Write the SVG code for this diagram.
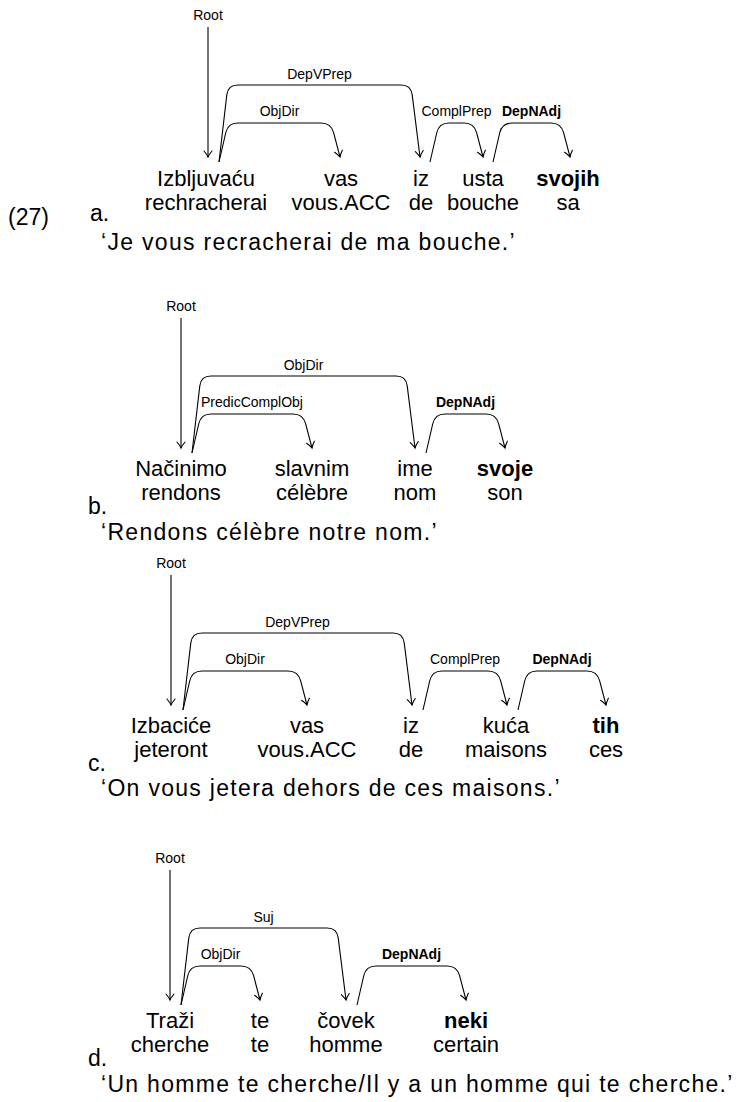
<svg xmlns="http://www.w3.org/2000/svg" width="740" height="1102" viewBox="0 0 740 1102">
<defs>
<marker id="ah" markerUnits="userSpaceOnUse" markerWidth="14" markerHeight="14" viewBox="-8 -7 14 14" refX="0" refY="0" orient="auto">
<path d="M-6,-4 C-3,-1.5 -1,-0.4 0,0 C-1,0.4 -3,1.5 -6,4" fill="none" stroke="#000" stroke-width="1.1" stroke-linecap="round"/>
</marker>
<style>
.w{font-family:"Liberation Sans",Arial,sans-serif;font-size:22px;fill:#000;text-anchor:middle}
.b{font-weight:bold}
.n{font-family:"Liberation Sans",Arial,sans-serif;font-size:23px;fill:#000}
.t{font-family:"Liberation Sans",Arial,sans-serif;font-size:23px;letter-spacing:1.3px;fill:#000}
.l{font-family:"Liberation Sans",Arial,sans-serif;font-size:14px;fill:#000;text-anchor:middle}
.e{fill:none;stroke:#000;stroke-width:1.1;marker-end:url(#ah)}
</style>
</defs>
<rect width="740" height="1102" fill="#fff"/>

<!-- Example a -->
<g id="ex-a">
<text class="n" x="8" y="225">(27)</text>
<text class="n" x="90" y="221">a.</text>
<g id="a-labels">
<text class="l" x="208" y="20">Root</text>
<text class="l" x="319.5" y="79">DepVPrep</text>
<text class="l" x="279.5" y="116">ObjDir</text>
<text class="l" x="456.5" y="116">ComplPrep</text>
<text class="l b" x="531.5" y="116">DepNAdj</text>
</g>
<g id="a-connectors">
<path class="e" d="M208,27 L208,157"/>
<path class="e" d="M219,162 L226.8,94.9 Q228,85 238,85 L401,85 Q411,85 412.2,94.9 L420,157"/>
<path class="e" d="M219,162 L225.75,132.75 Q228,123 238,123 L321,123 Q331,123 333.6,132.7 L340,157"/>
<path class="e" d="M430,162 L436.75,132.75 Q439,123 449,123 L464,123 Q474,123 476.6,132.7 L483,157"/>
<path class="e" d="M493,162 L499.75,132.75 Q502,123 512,123 L551,123 Q561,123 563.6,132.7 L570,157"/>
</g>
<g id="a-w1"><text class="w" x="206" y="186">Izbljuvaću</text><text class="w" x="206" y="210">rechracherai</text></g>
<g id="a-w2"><text class="w" x="341" y="186">vas</text><text class="w" x="341" y="210">vous.ACC</text></g>
<g id="a-w3"><text class="w" x="421" y="186">iz</text><text class="w" x="421" y="210">de</text></g>
<g id="a-w4"><text class="w" x="483" y="186">usta</text><text class="w" x="483" y="210">bouche</text></g>
<g id="a-w5"><text class="w b" x="568" y="186">svojih</text><text class="w" x="568" y="210">sa</text></g>
<text class="t" x="101" y="250">‘Je vous recracherai de ma bouche.’</text>
</g>

<!-- Example b -->
<g id="ex-b">
<text class="n" x="88" y="514">b.</text>
<g id="b-labels">
<text class="l" x="181" y="311">Root</text>
<text class="l" x="303.5" y="370">ObjDir</text>
<text class="l" x="252" y="407">PredicComplObj</text>
<text class="l b" x="465.5" y="407">DepNAdj</text>
</g>
<g id="b-connectors">
<path class="e" d="M181,318 L181,448"/>
<path class="e" d="M192,453 L199.8,385.9 Q201,376 211,376 L396,376 Q406,376 407.2,385.9 L415,448"/>
<path class="e" d="M192,453 L198.75,423.75 Q201,414 211,414 L293,414 Q303,414 305.6,423.7 L312,448"/>
<path class="e" d="M426,453 L432.75,423.75 Q435,414 445,414 L486,414 Q496,414 498.6,423.7 L505,448"/>
</g>
<g id="b-w1"><text class="w" x="181" y="476">Načinimo</text><text class="w" x="181" y="500">rendons</text></g>
<g id="b-w2"><text class="w" x="312" y="476">slavnim</text><text class="w" x="312" y="500">célèbre</text></g>
<g id="b-w3"><text class="w" x="415" y="476">ime</text><text class="w" x="415" y="500">nom</text></g>
<g id="b-w4"><text class="w b" x="505" y="476">svoje</text><text class="w" x="505" y="500">son</text></g>
<text class="t" x="101" y="540">‘Rendons célèbre notre nom.’</text>
</g>

<!-- Example c -->
<g id="ex-c">
<text class="n" x="88" y="771">c.</text>
<g id="c-labels">
<text class="l" x="171" y="568">Root</text>
<text class="l" x="297.5" y="627">DepVPrep</text>
<text class="l" x="245" y="664">ObjDir</text>
<text class="l" x="465" y="664">ComplPrep</text>
<text class="l b" x="562" y="664">DepNAdj</text>
</g>
<g id="c-connectors">
<path class="e" d="M171,575 L171,705"/>
<path class="e" d="M183,710 L190.8,642.9 Q192,633 202,633 L393,633 Q403,633 404.2,642.9 L412,705"/>
<path class="e" d="M183,710 L189.75,680.75 Q192,671 202,671 L288,671 Q298,671 300.6,680.7 L307,705"/>
<path class="e" d="M423,710 L429.75,680.75 Q432,671 442,671 L488,671 Q498,671 500.6,680.7 L507,705"/>
<path class="e" d="M518,710 L524.75,680.75 Q527,671 537,671 L587,671 Q597,671 599.6,680.7 L606,705"/>
</g>
<g id="c-w1"><text class="w" x="171" y="733">Izbaciće</text><text class="w" x="171" y="757">jeteront</text></g>
<g id="c-w2"><text class="w" x="307" y="733">vas</text><text class="w" x="307" y="757">vous.ACC</text></g>
<g id="c-w3"><text class="w" x="411" y="733">iz</text><text class="w" x="411" y="757">de</text></g>
<g id="c-w4"><text class="w" x="506" y="733">kuća</text><text class="w" x="506" y="757">maisons</text></g>
<g id="c-w5"><text class="w b" x="606" y="733">tih</text><text class="w" x="606" y="757">ces</text></g>
<text class="t" x="101" y="796">‘On vous jetera dehors de ces maisons.’</text>
</g>

<!-- Example d -->
<g id="ex-d">
<text class="n" x="88" y="1066">d.</text>
<g id="d-labels">
<text class="l" x="170" y="863">Root</text>
<text class="l" x="263.5" y="922">Suj</text>
<text class="l" x="220.5" y="959">ObjDir</text>
<text class="l b" x="411.5" y="959">DepNAdj</text>
</g>
<g id="d-connectors">
<path class="e" d="M170,870 L170,1000"/>
<path class="e" d="M181,1005 L188.8,937.9 Q190,928 200,928 L327,928 Q337,928 338.2,937.9 L346,1000"/>
<path class="e" d="M181,1005 L187.75,975.75 Q190,966 200,966 L241,966 Q251,966 253.6,975.7 L260,1000"/>
<path class="e" d="M357,1005 L363.75,975.75 Q366,966 376,966 L447,966 Q457,966 459.6,975.7 L466,1000"/>
</g>
<g id="d-w1"><text class="w" x="170" y="1028">Traži</text><text class="w" x="170" y="1052">cherche</text></g>
<g id="d-w2"><text class="w" x="260" y="1028">te</text><text class="w" x="260" y="1052">te</text></g>
<g id="d-w3"><text class="w" x="346" y="1028">čovek</text><text class="w" x="346" y="1052">homme</text></g>
<g id="d-w4"><text class="w b" x="466" y="1028">neki</text><text class="w" x="466" y="1052">certain</text></g>
<text class="t" x="101" y="1092">‘Un homme te cherche/Il y a un homme qui te cherche.’</text>
</g>
</svg>
